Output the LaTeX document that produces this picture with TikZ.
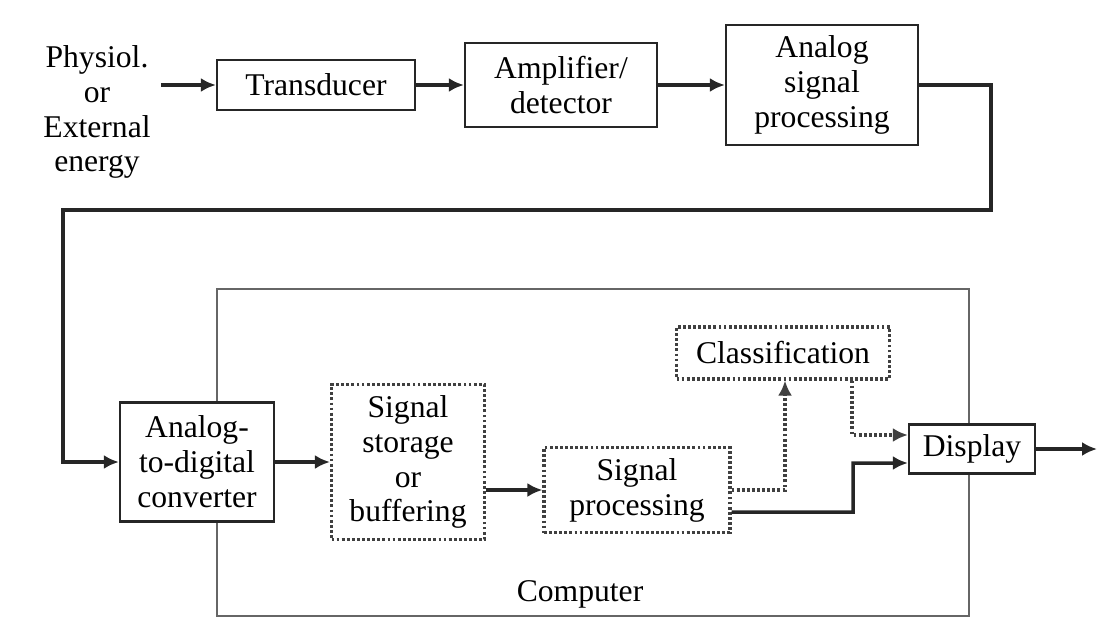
\documentclass[tikz,border=0pt]{standalone}
\usepackage{fontspec}
\setmainfont{Liberation Serif}
\usetikzlibrary{arrows.meta,positioning}
\tikzset{block/.style={draw=black!85,line width=1.3pt,fill=white,align=center,inner sep=0pt}}
\tikzset{dotblock/.style={block,draw=black!75,line width=1.8pt,dash pattern=on 1.6pt off 1.3pt}}
\tikzset{arrow/.style={draw=black!85,line width=2pt}}
\tikzset{dotarrow/.style={arrow,draw=black!75,line width=1.8pt,dash pattern=on 1.6pt off 1.3pt}}
\tikzset{frame/.style={draw=black!60,line width=0.9pt}}
\tikzset{plaintext/.style={align=center,inner sep=4pt}}

\begin{document}
\begin{tikzpicture}[node distance=4.9cm,>={Latex[length=3mm,width=2.8mm]},font=\fontsize{18}{19.85}\selectfont]
    \useasboundingbox (0,0) rectangle (21.98,-12.56);

    % front end
    \node[plaintext] (phys) at (1.94,-2.24) {Physiol.\\or\\External\\energy};
    \node[block,minimum width=3.96cm,minimum height=1cm] (trans) at (6.32,-1.70) {Transducer};
    \node[block,right of=trans,minimum width=3.84cm,minimum height=1.68cm] (amp) {Amplifier/\\detector};
    \node[block,right of=amp,node distance=5.22cm,minimum width=3.84cm,minimum height=2.4cm] (asp) {Analog\\signal\\processing};

    % computer
    \draw[frame] (4.34,-5.78) rectangle (19.38,-12.32);
    \node (comp) at (11.6,-11.88) {Computer};

    \node[block,minimum width=3.08cm,minimum height=2.38cm] (adc) at (3.94,-9.24) {Analog-\\to-digital\\converter};
    \node[dotblock,right of=adc,node distance=4.22cm,minimum width=3.06cm,minimum height=3.1cm] (store) {Signal\\storage\\or\\buffering};
    \node[dotblock,minimum width=3.72cm,minimum height=1.7cm] (sp) at (12.74,-9.80) {Signal\\processing};
    \node[dotblock,minimum width=4.26cm,minimum height=1.04cm] (cls) at (15.66,-7.06) {Classification};
    \node[block,minimum width=2.52cm,minimum height=0.98cm] (disp) at (19.44,-8.98) {Display};
    \coordinate[right of=disp,node distance=2.5cm] (out);

        \path[arrow,->] ([xshift=0.06cm]phys.east |- trans.west) -- (trans.west);
        \path[arrow,->] (trans) -- (amp);
        \path[arrow,->] (amp) -- (asp);
        \path[arrow,->] (asp.east) -- ++(1.44,0) |- (1.26,-4.2) |- (adc.west);
        \path[arrow,->] (adc) -- (store);
        \path[arrow,->] (store.east |- sp.west) -- (sp.west);
        \path[dotarrow,->] (sp.east) -| ([xshift=0.04cm]cls.south);
        \path[dotarrow,->] ([xshift=1.38cm]cls.south) |- ([yshift=0.28cm]disp.west);
        \path[arrow,->] ([yshift=-0.44cm]sp.east) -- (17.06,-10.24) |- ([yshift=-0.28cm]disp.west);
        \path[arrow,->] (disp) -- (out);
  \end{tikzpicture}
\end{document}
